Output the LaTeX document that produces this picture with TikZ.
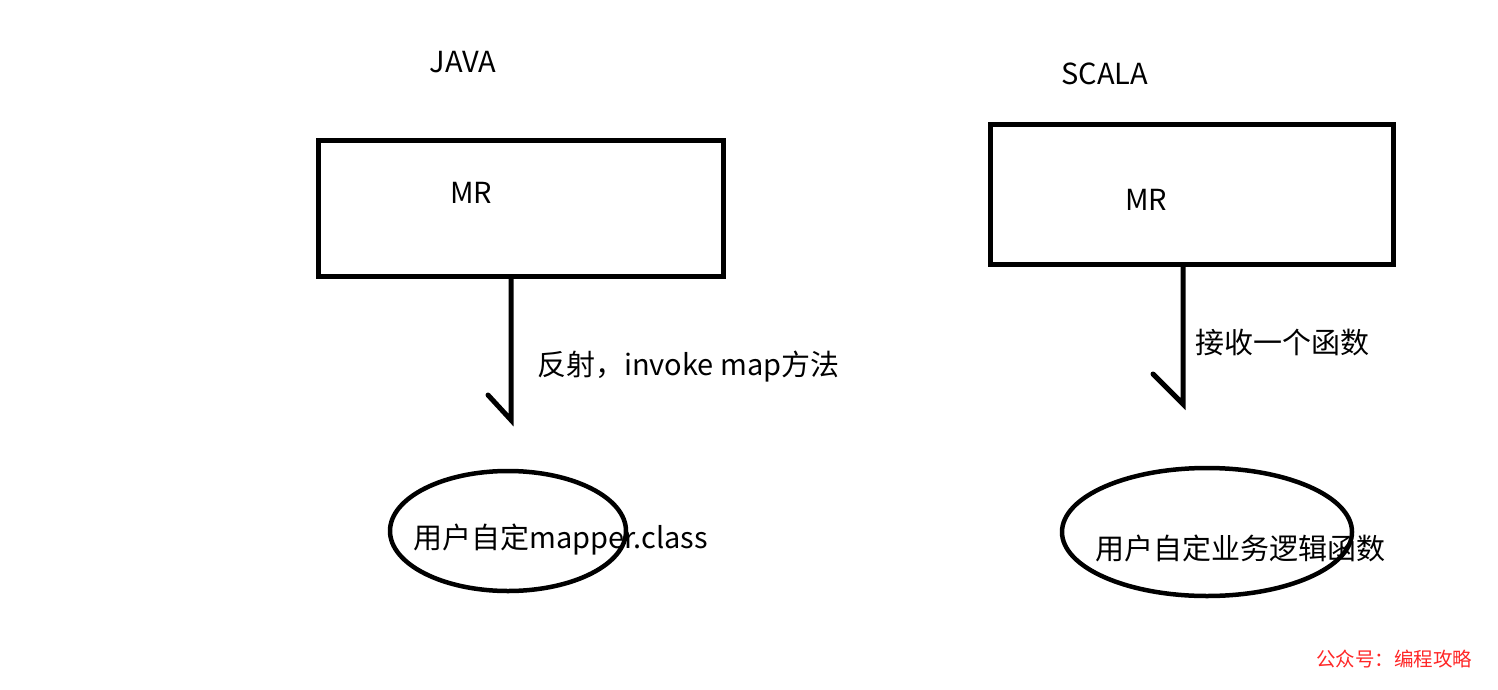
\documentclass[tikz,border=0pt]{standalone}
\usepackage{fontspec}
\setmainfont{Noto Sans CJK SC}
\usetikzlibrary{shapes.geometric}
\begin{document}
\begin{tikzpicture}[x=1pt,y=-1pt,
  lbl/.style={inner sep=0pt,font=\fontsize{29}{31}\selectfont},
  oval/.style={draw,ellipse,line width=4.5pt,inner sep=0pt},
  conn/.style={line width=5pt,line cap=round}]
\useasboundingbox (0,0) rectangle (1498,690);
% left
\node[lbl] (java) at (463,62) {JAVA};
\node[draw,line width=5pt,minimum width=405pt,minimum height=136pt,inner sep=0pt] (lbox) at (520.5,208) {};
\node[lbl] (lmr) at (471,193) {MR};
\coordinate (lend) at (511,420);
\draw[conn] (lend |- lbox.south) -- (lend) -- (488,395);
\node[lbl,anchor=west] (llab) at (537,367) {反射，invoke map方法};
\node[oval,minimum width=236pt,minimum height=120pt] (lell) at (508,531) {};
\node[lbl,anchor=west] (ltxt) at (413,540) {用户自定mapper.class};
% right
\node[lbl] (scala) at (1105,74) {SCALA};
\node[draw,line width=5pt,minimum width=403pt,minimum height=139pt,inner sep=0pt] (rbox) at (1191.5,194.5) {};
\node[lbl] (rmr) at (1146,200) {MR};
\coordinate (rend) at (1183,404);
\draw[conn] (rend |- rbox.south) -- (rend) -- (1153,374);
\node[lbl,anchor=west] (rlab) at (1195,343) {接收一个函数};
\node[oval,minimum width=290pt,minimum height=128pt] (rell) at (1207,532) {};
\node[lbl,anchor=west] (rtxt) at (1095,548) {用户自定业务逻辑函数};
% watermark
\node[inner sep=0pt,anchor=west,text=red!85!white,font=\fontsize{19.5}{21}\selectfont] (wm) at (1316,659) {公众号：编程攻略};
\end{tikzpicture}
\end{document}
